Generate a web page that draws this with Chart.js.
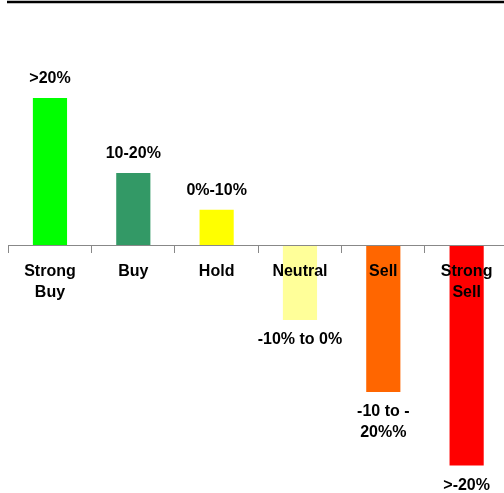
<!DOCTYPE html>
<html>
<head>
<meta charset="utf-8">
<script src="https://cdn.jsdelivr.net/npm/chart.js@4/dist/chart.umd.min.js"></script>
<style>
  html, body { margin: 0; padding: 0; background: #fff; overflow: hidden; }
  #wrap { width: 504px; height: 493px; overflow: hidden; position: relative; }
  canvas { display: block; }
</style>
</head>
<body>
<div id="wrap"><canvas id="c" width="512" height="493"></canvas></div>
<script>
// Rating categories, expected-return values and their range labels
const categories = [["Strong", "Buy"], "Buy", "Hold", "Neutral", "Sell", ["Strong", "Sell"]];
const returns = [20, 9.8, 4.8, -10.2, -20, -30];
const rangeLabels = [">20%", "10-20%", "0%-10%", "-10% to 0%", ["-10 to -", "20%%"], ">-20%"];
const barColors = ["#00FF00", "#339966", "#FFFF00", "#FFFF99", "#FF6600", "#FF0000"];

const FONT = "'Liberation Sans', Arial, sans-serif";

// Range labels above positive bars and below negative bars
const rangeLabelPlugin = {
  id: 'rangeLabels',
  afterDatasetsDraw(chart) {
    const ctx = chart.ctx;
    const meta = chart.getDatasetMeta(0);
    ctx.save();
    ctx.font = "bold 16px " + FONT;
    ctx.fillStyle = "#000";
    ctx.textAlign = "center";
    ctx.textBaseline = "middle";
    meta.data.forEach((bar, i) => {
      const lines = [].concat(rangeLabels[i]);
      const lh = 21;
      if (returns[i] >= 0) {
        const y0 = bar.y - 19 - (lines.length - 1) * lh;
        lines.forEach((t, k) => ctx.fillText(t, bar.x, y0 + k * lh));
      } else {
        const y0 = bar.y + 20;
        lines.forEach((t, k) => ctx.fillText(t, bar.x, y0 + k * lh));
      }
    });
    ctx.restore();
  }
};

// Heavy rule along the top edge
const topRulePlugin = {
  id: 'topRule',
  afterDraw(chart) {
    const ctx = chart.ctx;
    ctx.save();
    ctx.strokeStyle = "#000";
    ctx.lineWidth = 2.5;
    ctx.beginPath();
    ctx.moveTo(7, 2);
    ctx.lineTo(chart.width, 2);
    ctx.stroke();
    ctx.restore();
  }
};

new Chart(document.getElementById('c'), {
  type: 'bar',
  data: {
    labels: categories,
    datasets: [{
      data: returns,
      backgroundColor: barColors,
      borderWidth: 0,
      barPercentage: 0.41,
      categoryPercentage: 1.0
    }]
  },
  options: {
    responsive: false,
    animation: false,
    layout: { padding: { left: 8.3, right: 3.7, top: 24.5, bottom: 5.4 } },
    plugins: { legend: { display: false }, tooltip: { enabled: false } },
    scales: {
      x: {
        position: { y: 0 },
        grid: {
          drawOnChartArea: false,
          drawTicks: true,
          tickLength: 7,
          color: "#888888",
          offset: true,
          z: 1
        },
        border: { display: true, color: "#888888", width: 1, z: 1 },
        ticks: {
          color: "#000",
          padding: 9,
          maxRotation: 0,
          autoSkip: false,
          z: 2,
          font: { family: FONT, size: 16, weight: 'bold', lineHeight: 1.3 }
        }
      },
      y: {
        display: false,
        min: -33,
        max: 30
      }
    }
  },
  plugins: [rangeLabelPlugin, topRulePlugin]
});
</script>
</body>
</html>
